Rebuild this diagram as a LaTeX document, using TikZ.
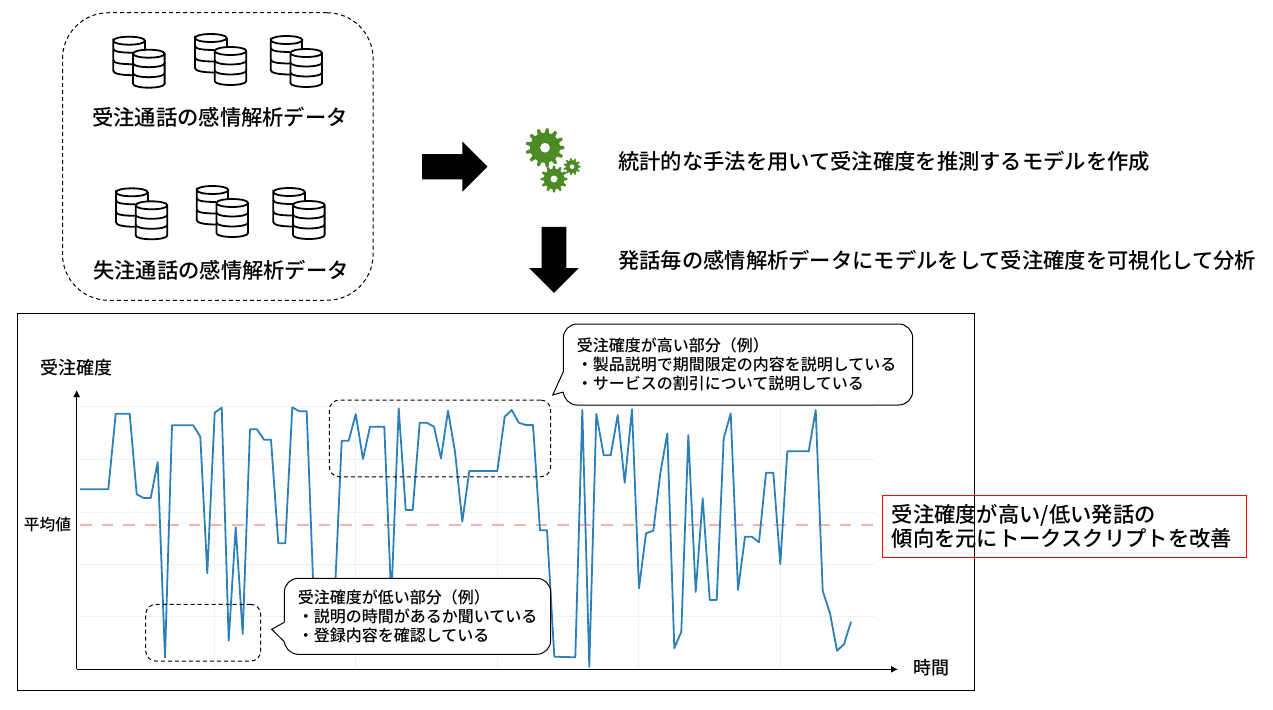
\documentclass[tikz,border=0pt]{standalone}
\usepackage{fontspec}
\setmainfont{Noto Sans CJK JP Medium}
\usetikzlibrary{arrows.meta,shapes.arrows}
\definecolor{gearcolor}{HTML}{4B8A24}
\definecolor{datacolor}{HTML}{2C7FB8}
\definecolor{meancolor}{HTML}{F5B0B0}
\definecolor{gridcolor}{HTML}{F1F1F1}
\tikzset{
    pics/dbpair/.style={code={
        \draw [line width=1.8pt] (0,4) .. controls (0,-1.3) and (31.6,-1.3) .. (31.6,4) .. controls (31.6,9.3) and (0,9.3) .. (0,4) -- (0,34) .. controls (0,37) and (8,38.5) .. (19.7,38.5);
        \draw [line width=1.8pt] (31.6,4) -- (31.6,13);
        \draw [line width=1.8pt] (0,12) .. controls (0,15) and (8,16) .. (19.7,16);
        \draw [line width=1.8pt] (0,23.5) .. controls (0,26.5) and (8,27.5) .. (19.7,27.5);
        \draw [line width=1.8pt, fill=white] (19.7,17) .. controls (19.7,11.7) and (51.3,11.7) .. (51.3,17) -- (51.3,47) .. controls (51.3,52.3) and (19.7,52.3) .. (19.7,47) -- cycle;
        \draw [line width=1.8pt] (19.7,17) .. controls (19.7,22.3) and (51.3,22.3) .. (51.3,17);
        \draw [line width=1.8pt] (19.7,26.5) .. controls (19.7,31.8) and (51.3,31.8) .. (51.3,26.5);
        \draw [line width=1.8pt] (19.7,36.5) .. controls (19.7,41.8) and (51.3,41.8) .. (51.3,36.5);
    }},
    pics/gear/.style args={#1/#2/#3/#4}{code={
        \fill [gearcolor, even odd rule] ({-0.3*360/#1}:#3)
            \foreach \tooth in {1,...,#1} {
                -- ({(\tooth-1-0.14)*360/#1}:#2) -- ({(\tooth-1+0.14)*360/#1}:#2)
                -- ({(\tooth-1+0.3)*360/#1}:#3) -- ({(\tooth-1+0.7)*360/#1}:#3)
            } -- cycle (0,0) circle (#4);
    }}
}
\begin{document}
\begin{tikzpicture}[x=1pt, y=-1pt]
    \tikzstyle{blockarrow} = [single arrow, fill=black, anchor=tail, inner xsep=0pt, single arrow head extend=12.5pt, single arrow head indent=0pt, single arrow tip angle=90]
    \tikzstyle{biglabel} = [inner sep=0pt, font=\fontsize{21.3}{24}\selectfont]
    \tikzstyle{axislabel} = [inner sep=0pt, font=\fontsize{18}{22}\selectfont]
    \tikzstyle{calloutbox} = [draw, fill=white, line width=1pt, rounded corners=14pt, inner xsep=13.5pt, inner ysep=0pt, align=left, font=\fontsize{16}{18.9}\selectfont]
    \tikzstyle{pickbox} = [draw, line width=1pt, dash pattern=on 4pt off 3pt, rounded corners=10pt, inner sep=0pt]
    \useasboundingbox (0,0) rectangle (1273,709);

    \node (databox) at (217.8,156.5) [draw, line width=1pt, dash pattern=on 4pt off 3pt, rounded corners=46pt, minimum width=310.6pt, minimum height=287.5pt] {};
    \foreach \dbx/\dby in {113.3/36.7, 195/34, 270.7/36, 116/188.3, 196.7/186, 273.3/188}
        \pic at (\dbx,\dby) {dbpair};
    \node (wonlabel) at (220,117) [biglabel] {受注通話の感情解析データ};
    \node (lostlabel) at (221,270.5) [biglabel] {失注通話の感情解析データ};

    \node (rightarrow) at (422,166.7) [blockarrow, inner ysep=12.5pt, minimum height=65.3pt] {};
    \node (downarrow) at (554,226.7) [blockarrow, inner ysep=12.2pt, rotate=-90, minimum height=66pt] {};

    \pic at (545,147.7) {gear={13/19.5/15/5}};
    \pic at (554,179) {gear={12/13.5/10.2/3.6}};
    \pic at (572,166.7) {gear={11/8.6/6.4/2.4}};

    \node (modeltext) at (618,161) [biglabel, anchor=west] {統計的な手法を用いて受注確度を推測するモデルを作成};
    \node (applytext) at (618,260) [biglabel, anchor=west] {発話毎の感情解析データにモデルをして受注確度を可視化して分析};

    \node (frame) at (496,502) [draw, line width=1pt, minimum width=957pt, minimum height=377pt] {};

    \foreach \gridy in {406.7,459.3,512,564,616.7}
        \draw [gridcolor, line width=1pt] (80,\gridy) -- (875,\gridy);
    \foreach \gridx in {214.7,355.7,497.3,638.7,780.3}
        \draw [gridcolor, line width=1pt] (\gridx,406) -- (\gridx,668);

    \coordinate (origin) at (76.7,669.3);
    \coordinate (xend) at (898,669.3);
    \coordinate (yend) at (76.7,390);
    \draw [line width=1pt, -{Latex[length=7pt,width=7pt]}] (origin) -- (xend);
    \draw [line width=1pt, -{Latex[length=7pt,width=7pt]}] (origin) -- (yend);
    \node (ylabel) at (76,368) [axislabel] {受注確度};
    \node (xlabel) at (931,668) [axislabel] {時間};

    \coordinate (meanl) at (80,525);
    \coordinate (meanr) at (875,525);
    \draw [meancolor, line width=1.3pt, dash pattern=on 11.7pt off 10pt] (meanl) -- (meanr);
    \node (meanlabel) at (47.5,525) [inner sep=0pt, font=\fontsize{15.7}{18}\selectfont] {平均値};

    \draw [datacolor, line width=1.8pt, line join=round] plot coordinates {
        (80,489.3) (108.3,489.3) (115.7,413.7) (129.7,413.7) (136.7,494.3) (143.7,498) (150.7,498)
        (157.7,462) (165,657.7) (172,425.3) (193.3,425.3) (200.3,436.7) (207.3,573.3) (214.7,412.7)
        (221.7,407.7) (228.7,640.7) (235.7,527.3) (242.7,634) (250,429.3) (257,429.3) (264,439.7)
        (271,439.7) (278.3,543.3) (285.3,543.3) (292.3,407.3) (299.3,411.3) (306.7,411.3) (313.8,600)
        (334.6,600) (341.7,440.7) (348.7,440.7) (355.7,414) (363,459) (370,426.7) (384.3,426.7)
        (391.3,600) (398.7,408.3) (405.7,510) (412.7,510) (419.7,422.7) (426.7,422.7) (434,426.7)
        (441,458.3) (448,410.7) (455,451.7) (462.3,521.7) (469.3,471) (497.3,471) (504.7,416.7)
        (511.7,410) (518.7,422.7) (525.7,425) (533,425) (540,530.3) (547,530.3) (554.3,656.7)
        (575.3,657.3) (582.3,410) (589.3,666.7) (596.3,414) (603.7,455.3) (610.7,455.3) (617.7,415)
        (624.7,482.7) (632,409.3) (639,588.3) (646,533.3) (653.3,530.7) (660.3,473.3) (667.3,433.3)
        (674.3,648.3) (681.3,631.7) (688.3,435) (695.7,592) (702.7,498.3) (709.7,600) (716.7,600)
        (723.7,438.3) (730.7,413.3) (738,590) (745,536.7) (752,536.7) (759,542.3) (766,472.7)
        (773.3,472.7) (780.3,564) (787.3,451.3) (808.7,451.3) (815.7,410) (822.7,591) (830,613.3)
        (837,650.7) (844,644.3) (851,621.7)
    };

    \node (highpick) at (440,438.4) [pickbox, minimum width=221.4pt, minimum height=76.7pt] {};
    \node (lowpick) at (203.2,632.7) [pickbox, minimum width=115pt, minimum height=56.7pt] {};

    \node (hightext) at (738,364.5) [calloutbox, text width=322.4pt, minimum height=81pt] {受注確度が高い部分（例）\\・製品説明で期間限定の内容を説明している\\・サービスの割引について説明している};
    \coordinate (hightip) at (552.7,395);
    \coordinate (higha) at (563.3,371.7);
    \coordinate (highb) at (563.3,392);
    \draw [white, line width=2pt] (higha) -- (highb);
    \draw [line width=1pt, fill=white] (higha) -- (hightip) -- (highb);

    \node (lowtext) at (417.5,616.3) [calloutbox, text width=239.4pt, minimum height=76pt] {受注確度が低い部分（例）\\・説明の時間があるか聞いている\\・登録内容を確認している};
    \coordinate (lowtip) at (271.7,629.3);
    \coordinate (lowa) at (284.3,622.3);
    \coordinate (lowb) at (284.3,641.7);
    \draw [white, line width=2pt] (lowa) -- (lowb);
    \draw [line width=1pt, fill=white] (lowa) -- (lowtip) -- (lowb);

    \node (advice) at (1064.6,526.3) [draw=red, line width=1pt, inner xsep=9.5pt, inner ysep=0pt, text width=345.7pt, minimum height=62pt, align=left, font=\fontsize{21.3}{24}\selectfont] {受注確度が高い/低い発話の\\傾向を元にトークスクリプトを改善};
\end{tikzpicture}
\end{document}
